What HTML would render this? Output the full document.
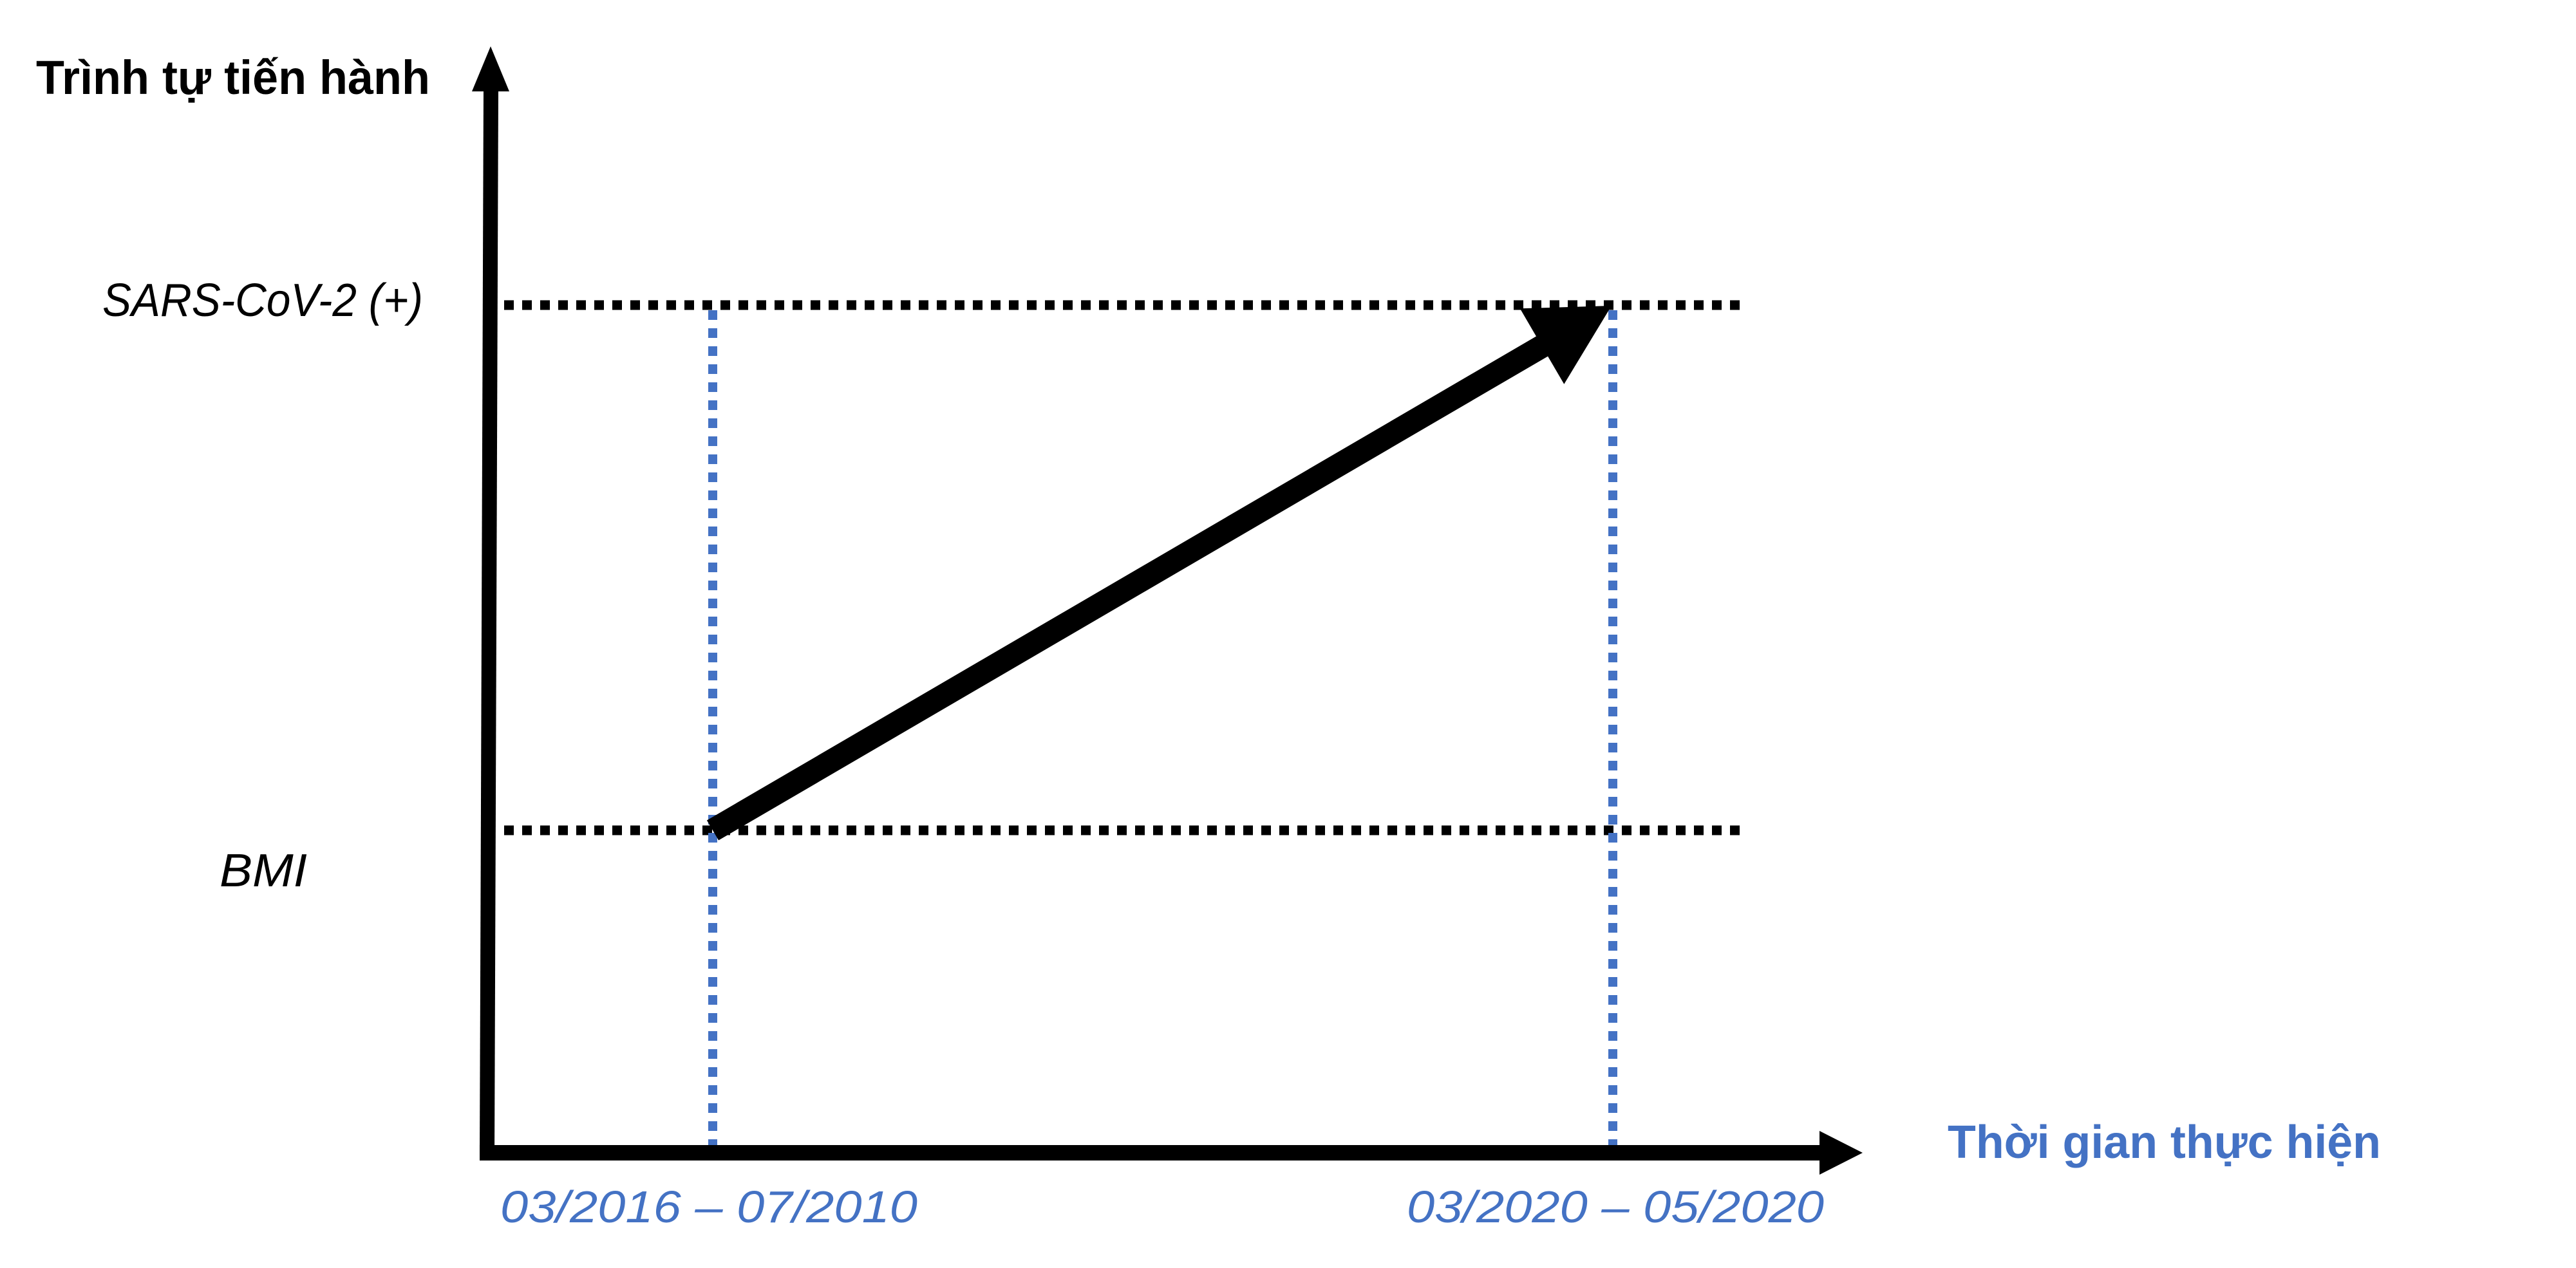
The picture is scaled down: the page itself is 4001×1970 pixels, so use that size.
<!DOCTYPE html>
<html><head><meta charset="utf-8">
<style>
html,body{margin:0;padding:0;background:#fff;}
svg{display:block;}
</style></head>
<body>
<svg id="chart" width="4001" height="1970" viewBox="0 0 4001 1970" xmlns="http://www.w3.org/2000/svg">
  <rect x="0" y="0" width="4001" height="1970" fill="#fff"/>
  <g id="guides"></g>
  <g id="axes">
    <polygon points="751,140 745,1800 768,1800 774,140" fill="#000"/>
    <polygon points="762,72 733,142 791,142" fill="#000"/>
    <rect x="745" y="1779" width="2083" height="24" fill="#000"/>
    <polygon points="2826,1757 2893,1791 2826,1825" fill="#000"/>
  </g>
  <g id="marks"></g>
  <text x="56" y="146" font-family="'Liberation Sans', sans-serif" font-weight="bold" font-size="74" textLength="612" lengthAdjust="spacingAndGlyphs" fill="#000">Trình tự tiến hành</text>
  <text x="3025" y="1799" font-family="'Liberation Sans', sans-serif" font-weight="bold" font-size="72" textLength="673" lengthAdjust="spacingAndGlyphs" fill="#4472C4">Thời gian thực hiện</text>
  <g id="labels"></g>
</svg>
<script>
const levels = ["BMI", "SARS-CoV-2 (+)"];
const periods = ["03/2016 – 07/2010", "03/2020 – 05/2020"];
const arrowFrom = [0, 0]; // [periodIndex, levelIndex]
const arrowTo = [1, 1];

const NS = "http://www.w3.org/2000/svg";
function xPos(i){ return 1107 + i * (2505 - 1107); }
function yPos(i){ return 1290 + i * (474 - 1290); }
function mk(tag, attrs, parent){
  const e = document.createElementNS(NS, tag);
  for (const k in attrs) e.setAttribute(k, attrs[k]);
  parent.appendChild(e);
  return e;
}
const guides = document.getElementById('guides');
const labels = document.getElementById('labels');
const marks = document.getElementById('marks');

const levelLabelX = [341, 159];
const levelLabelW = [136, 498];
levels.forEach((lv, i) => {
  const y = yPos(i);
  const l = mk('line', {x1: 783, y1: y, x2: 2712, y2: y, stroke: '#000', 'stroke-width': 15, 'stroke-dasharray': '15 13'}, guides);
  
  
  const t = mk('text', {x: levelLabelX[i], y: y + (i === 0 ? 87 : 17), 'font-family': "'Liberation Sans', sans-serif", 'font-style': 'italic', 'font-size': 72, textLength: levelLabelW[i], lengthAdjust: 'spacingAndGlyphs', fill: '#000'}, labels);
  t.textContent = lv;
  
  
});

const periodLabelX = [777, 2185];
periods.forEach((p, i) => {
  const x = xPos(i);
  const l = mk('line', {x1: x, y1: yPos(1) + 8, x2: x, y2: 1779, stroke: '#4472C4', 'stroke-width': 14, 'stroke-dasharray': '15 13'}, guides);
  
  
  const t = mk('text', {x: periodLabelX[i], y: 1899, 'font-family': "'Liberation Sans', sans-serif", 'font-style': 'italic', 'font-size': 70, textLength: 648, lengthAdjust: 'spacingAndGlyphs', fill: '#4472C4'}, labels);
  t.textContent = p;
  
  
});

// big arrow
const x0 = xPos(arrowFrom[0]), y0 = yPos(arrowFrom[1]);
const x1 = xPos(arrowTo[0]) - 2, y1 = yPos(arrowTo[1]) + 1;
const dx = x1 - x0, dy = y1 - y0, len = Math.hypot(dx, dy);
const ux = dx / len, uy = dy / len, nx = -uy, ny = ux;
const hw = 18, headLen = 125, headW = 68;
const bx = x1 - ux * headLen, by = y1 - uy * headLen;
const pts = [
  [x0 + nx * hw, y0 + ny * hw],
  [bx + nx * hw, by + ny * hw],
  [bx + nx * headW, by + ny * headW],
  [x1, y1],
  [bx - nx * headW, by - ny * headW],
  [bx - nx * hw, by - ny * hw],
  [x0 - nx * hw, y0 - ny * hw]
];
const arrow = mk('polygon', {points: pts.map(p => p[0].toFixed(1) + ',' + p[1].toFixed(1)).join(' '), fill: '#000'}, marks);


</script>
</body></html>
